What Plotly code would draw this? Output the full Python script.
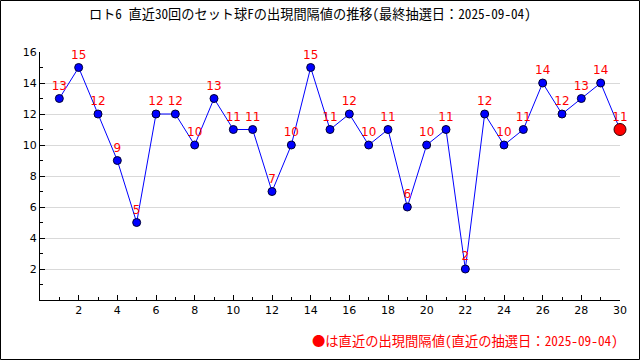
import plotly.graph_objects as go

draws = list(range(1, 31))
intervals = [13, 15, 12, 9, 5, 12, 12, 10, 13, 11, 11, 7, 10, 15, 11, 12, 10, 11, 6, 10,
             11, 2, 12, 10, 11, 14, 12, 13, 14, 11]
title_text = "ロト6 直近30回のセット球Fの出現間隔値の推移(最終抽選日：2025-09-04)"
legend_text = "●は直近の出現間隔値(直近の抽選日：2025-09-04)"
x_ticks = list(range(2, 31, 2))
y_ticks = list(range(2, 17, 2))

W, H = 640, 360
L, R, T, B = 40, 20, 52, 60
pw, ph = W - L - R, H - T - B

fig = go.Figure()
fig.add_trace(go.Scatter(
    x=draws, y=intervals, mode="lines+markers+text",
    line=dict(color="#0000ff", width=1),
    marker=dict(color="#0000ff", size=8, line=dict(color="#000033", width=1)),
    text=[str(v) for v in intervals], textposition="top center",
    textfont=dict(color="#ff0000", size=12, family="DejaVu Sans"),
    cliponaxis=False, hoverinfo="skip", showlegend=False))
fig.add_trace(go.Scatter(
    x=draws[-1:], y=intervals[-1:], mode="markers",
    marker=dict(color="#ff0000", size=12, line=dict(color="#330000", width=1)),
    cliponaxis=False, hoverinfo="skip", showlegend=False))

axis_font = dict(family="DejaVu Sans", size=11, color="#000000")
fig.update_xaxes(range=[0, 30], tickvals=x_ticks, ticks="inside", ticklen=5,
                 tickcolor="#000", showline=True, linecolor="#000", linewidth=1,
                 showgrid=False, zeroline=False, tickfont=axis_font,
                 minor=dict(ticks="inside", ticklen=3, tickcolor="#000",
                            tickvals=list(range(1, 30, 2)), showgrid=False))
fig.update_yaxes(range=[0, 16], tickvals=y_ticks, ticks="inside", ticklen=5,
                 tickcolor="#000", showline=True, linecolor="#000", linewidth=1,
                 showgrid=True, gridcolor="#d9d9d9", zeroline=False, tickfont=axis_font,
                 minor=dict(ticks="inside", ticklen=3, tickcolor="#000",
                            tickvals=list(range(1, 16, 2)), showgrid=False))

fig.add_shape(type="rect", xref="paper", yref="paper",
              x0=(0.5 - L) / pw, x1=(W - 0.5 - L) / pw,
              y0=-(B - 0.5) / ph, y1=1 + (T - 0.5) / ph,
              line=dict(color="#000", width=1), fillcolor="rgba(0,0,0,0)", layer="above")

jp_font = "Noto Sans Mono CJK JP, Noto Sans CJK JP"
fig.add_annotation(text=title_text, xref="paper", yref="paper",
                   x=(310 - L) / pw, y=1 + (T - 14) / ph, xanchor="center", yanchor="middle",
                   showarrow=False,
                   font=dict(family=jp_font, size=13.2, color="#000"))
fig.add_annotation(text=legend_text, xref="paper", yref="paper",
                   x=1.0, y=-(340 - T - ph) / ph, xanchor="right", yanchor="middle",
                   showarrow=False,
                   font=dict(family=jp_font, size=13.3, color="#ff0000"))

fig.update_layout(width=W, height=H, margin=dict(l=L, r=R, t=T, b=B, autoexpand=False),
                  paper_bgcolor="#ffffff", plot_bgcolor="#ffffff")
fig.write_html("out.html", config={"displayModeBar": False, "staticPlot": True},
               post_script="document.body.style.margin='0';document.body.style.overflow='hidden';")
